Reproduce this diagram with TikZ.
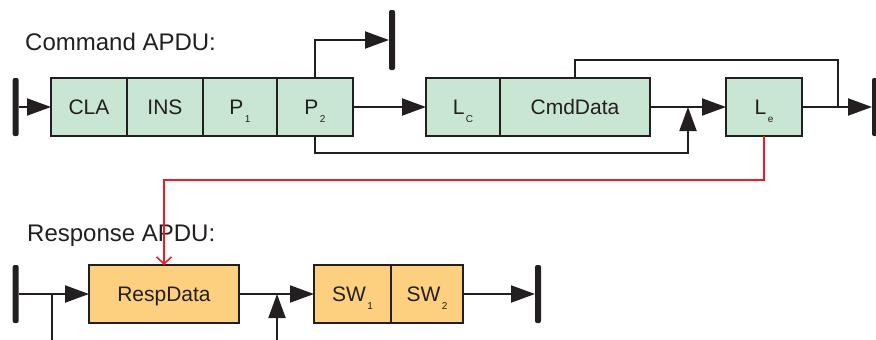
\documentclass[tikz,border=0pt]{standalone}
\usepackage{fontspec}
\setmainfont{Liberation Sans}
\usetikzlibrary{arrows.meta, positioning}
\definecolor{ink}{RGB}{35,31,32}
\definecolor{cmdgreen}{RGB}{201,230,211}
\definecolor{resporange}{RGB}{253,208,128}
\definecolor{lered}{RGB}{237,28,36}
\newcommand{\fsub}[1]{\kern1.5pt\raisebox{-8pt}{\fontsize{10}{10}\selectfont #1}}
\tikzset{
  field/.style={draw=ink, line width=2pt, minimum height=58pt, inner sep=0pt, outer sep=0pt,
    text=ink, font=\fontsize{21}{21}\selectfont, text height=15pt, text depth=0pt},
  cmdfield/.style={field, fill=cmdgreen},
  respfield/.style={field, fill=resporange},
  bar/.style={fill=ink, rounded corners=2pt, minimum width=6pt, minimum height=58pt, inner sep=0pt, outer sep=0pt},
  flow/.style={draw=ink, line width=2pt, -{Triangle[length=24pt,width=17pt]}},
  wire/.style={draw=ink, line width=2pt},
  reply/.style={draw=lered, line width=1.6pt, -{Straight Barb[length=7pt,width=15pt,line width=1.6pt]}},
  title/.style={anchor=base west, inner sep=0pt, text=ink, font=\fontsize{24}{24}\selectfont},
}

\begin{document}
\begin{tikzpicture}[x=1pt, y=-1pt]
  \useasboundingbox (0,0) rectangle (876,340);

  % command APDU
  \node[title] (cmdtitle) at (25,50) {Command APDU:};
  \node[bar] (cmdstart) at (15.7,107) {};
  \node[cmdfield, minimum width=76pt] (cla) at (89,107) {CLA};
  \node[cmdfield, minimum width=76pt, right=0pt of cla] (ins) {INS};
  \node[cmdfield, minimum width=74pt, right=0pt of ins] (p1) {P\fsub{1}};
  \node[cmdfield, minimum width=76pt, right=0pt of p1] (p2) {P\fsub{2}};
  \node[cmdfield, minimum width=74pt] (lc) at (463,107) {L\fsub{C}};
  \node[cmdfield, minimum width=150pt, right=0pt of lc] (cmddata) {CmdData};
  \node[cmdfield, minimum width=76pt] (le) at (764,107) {L\fsub{e}};
  \node[bar, minimum height=60pt] (cmdstop) at (392,40) {};
  \node[bar] (cmdend) at (875,107) {};
  \coordinate (jdata) at (688,107);
  \coordinate (jle) at (838,107);

  \draw[flow] (cmdstart.east) -- (cla.west);
  \draw[flow] (p2.north) |- (cmdstop.west);
  \draw[flow] (p2.east) -- (lc.west);
  \draw[flow] (p2.south) -- ++(0,17) -| (jdata);
  \draw[flow] (cmddata.east) -- (le.west);
  \draw[wire] (cmddata.north) -- ++(0,-18) -| (jle);
  \draw[flow] (le.east) -- (cmdend.west);

  % response APDU
  \node[title] (resptitle) at (27,241) {Response APDU:};
  \node[bar] (respstart) at (15.7,294) {};
  \node[respfield, minimum width=150pt] (respdata) at (164,294) {RespData};
  \node[respfield, minimum width=77pt] (sw1) at (352.5,294) {SW\fsub{1}};
  \node[respfield, minimum width=72pt, right=0pt of sw1] (sw2) {SW\fsub{2}};
  \node[bar] (respend) at (538,294) {};
  \coordinate (jin) at (52,294);
  \coordinate (jinfoot) at (52,345);
  \coordinate (jsw) at (277,294);
  \coordinate (jswfoot) at (277,345);

  \draw[flow] (respstart.east) -- (respdata.west);
  \draw[wire] (jin) -- (jinfoot);
  \draw[flow] (respdata.east) -- (sw1.west);
  \draw[flow] (jswfoot) -- (jsw);
  \draw[flow] (sw2.east) -- (respend.west);

  % Le sets the length of the response data
  \draw[reply] (le.south) -- ++(0,44) -| (respdata.north);
\end{tikzpicture}
\end{document}
